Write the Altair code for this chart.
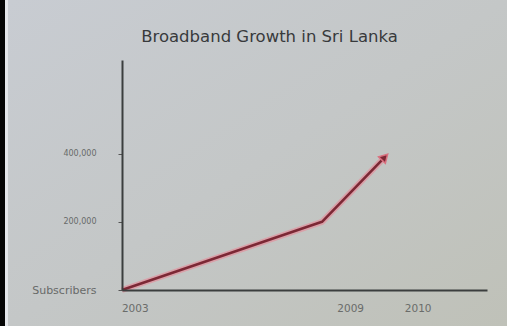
import altair as alt
import pandas as pd

# Data
positions = [0, 54.8, 72]            # position along the time axis (0-100 scale)
subscribers = [0, 200000, 390000]
tick_positions = [3.5, 62.5, 81]
tick_years = ["2003", "2009", "2010"]
y_ticks = [0, 200000, 400000]
y_tick_labels = ["Subscribers", "200,000", "400,000"]

df = pd.DataFrame({"t": positions, "subs": subscribers})

x_label_expr = " : ".join(
    f"datum.value == {p} ? '{l}'" for p, l in zip(tick_positions, tick_years)
) + " : ''"
y_label_expr = " : ".join(
    f"datum.value == {v} ? '{l}'" for v, l in zip(y_ticks, y_tick_labels)
) + " : ''"

x_enc = alt.X(
    "t:Q",
    scale=alt.Scale(domain=[0, 100], nice=False, zero=False),
    axis=alt.Axis(
        values=tick_positions, labelExpr=x_label_expr, title=None, grid=False,
        ticks=False, domainColor="#3b3e3e", domainWidth=2, labelPadding=13,
        labelFontSize=10.5, labelColor="#6a6c6a", labelFont="DejaVu Sans", zindex=1,
    ),
)
y_enc = alt.Y(
    "subs:Q",
    scale=alt.Scale(domain=[0, 675000], nice=False),
    axis=alt.Axis(
        values=y_ticks, labelExpr=y_label_expr, title=None, grid=False,
        tickSize=4, tickColor="#555", domainColor="#3b3e3e", domainWidth=2,
        labelPadding=22, zindex=1,
        labelFontSize={"condition": {"test": "datum.value == 0", "value": 11}, "value": 8},
        labelColor="#686a69", labelFont="DejaVu Sans",
    ),
)

bg = alt.Chart(alt.Data(values=[{"a": 1}])).mark_rect(
    color=alt.Gradient(
        gradient="linear", x1=0, y1=0, x2=1, y2=1,
        stops=[alt.GradientStop(offset=0, color="#c8ccd2"),
               alt.GradientStop(offset=0.5, color="#c4c7c7"),
               alt.GradientStop(offset=1, color="#bfc1b8")],
    )
).encode(x=alt.value(-114), x2=alt.value(385), y=alt.value(-60), y2=alt.value(266))

strip_black = alt.Chart(alt.Data(values=[{"a": 1}])).mark_rect(color="#050505").encode(
    x=alt.value(-122), x2=alt.value(-117), y=alt.value(-60), y2=alt.value(266))
strip_white = alt.Chart(alt.Data(values=[{"a": 1}])).mark_rect(color="#e4e6ea").encode(
    x=alt.value(-117), x2=alt.value(-114), y=alt.value(-60), y2=alt.value(266))

base = alt.Chart(df).encode(x=x_enc, y=y_enc)
glow = base.mark_line(color="#e3909c", strokeWidth=6, opacity=0.7, strokeJoin="round")
line = base.mark_line(color="#7c2835", strokeWidth=2.6, strokeJoin="round")
arrow = alt.Chart(df.tail(1)).mark_point(
    shape="triangle-up", filled=True, size=90, angle=44, color="#7c2835", opacity=1,
    stroke="#d9707f", strokeWidth=1.5,
).encode(x="t:Q", y="subs:Q")

chart = alt.layer(bg, strip_black, strip_white, glow, line, arrow).properties(
    width=365, height=230,
    title=alt.TitleParams(
        "Broadband Growth in Sri Lanka", fontSize=16.5, font="DejaVu Sans",
        fontWeight="normal", color="#383a3c", anchor="middle", frame="group",
        dx=-35, offset=-45, zindex=1,
    ),
    autosize=alt.AutoSizeParams(type="none"),
    padding={"left": 122, "top": 60, "right": 20, "bottom": 36},
).configure(background="#c4c7c7").configure_view(stroke=None)

chart.save("out.html", embed_options={"renderer": "svg", "actions": False})
